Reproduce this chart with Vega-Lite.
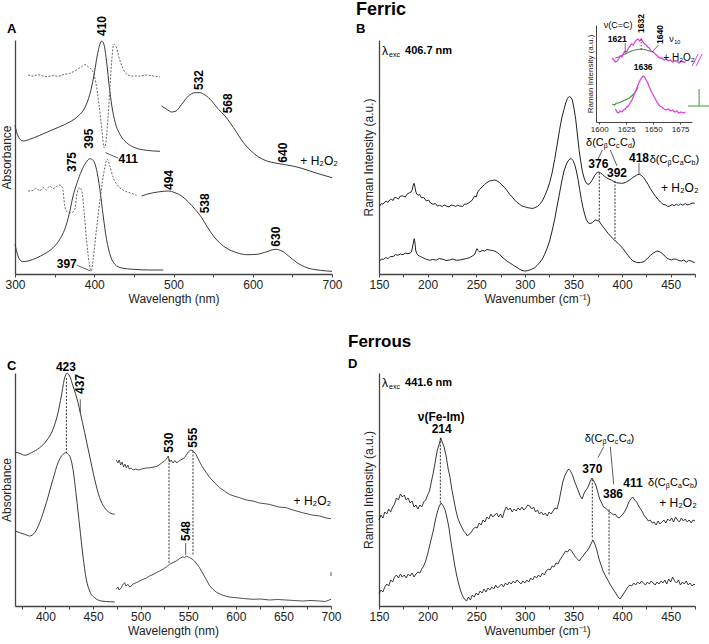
{
"$schema": "https://vega.github.io/schema/vega-lite/v6.json",
"background": "white",
"padding": {"left": 0, "top": 1, "right": 5, "bottom": 5},
"bounds": "flush",
"columns": 2,
"spacing": {"row": 99, "column": 47},
"config": {
  "view": {"stroke": null},
  "font": "Liberation Sans",
  "axis": {"grid": false, "domainColor": "#444", "domainWidth": 1.3, "tickColor": "#444", "tickSize": 3, "labelFontSize": 12, "labelColor": "#222", "titleFontSize": 12, "titleFontWeight": "normal", "titleColor": "#222", "labelPadding": 2, "titlePadding": 3, "labelFlush": false, "labelOverlap": false},
  "axisY": {"ticks": false, "labels": false},
  "title": {"fontSize": 13, "fontWeight": "bold", "color": "#000", "anchor": "start", "frame": "group", "subtitleFontSize": 13, "subtitleFontWeight": "bold", "subtitleColor": "#000", "subtitleFont": "Liberation Sans"}
},
"datasets": {
  "Asolid": [
    {"s":"u1","x":300,"y":148.7},{"s":"u1","x":303.8,"y":138},{"s":"u1","x":310.1,"y":133},{"s":"u1","x":318.5,"y":134.7},{"s":"u1","x":331.2,"y":138.7},{"s":"u1","x":343.8,"y":143},{"s":"u1","x":356.5,"y":147.3},{"s":"u1","x":369.1,"y":152},{"s":"u1","x":379.7,"y":158},{"s":"u1","x":388.1,"y":166.3},{"s":"u1","x":394.4,"y":179.7},{"s":"u1","x":399.5,"y":198},{"s":"u1","x":403.7,"y":218},{"s":"u1","x":407.1,"y":229.7},{"s":"u1","x":409.6,"y":233},{"s":"u1","x":412.2,"y":229.7},{"s":"u1","x":415.5,"y":213},{"s":"u1","x":418.9,"y":188},{"s":"u1","x":422.2,"y":168},{"s":"u1","x":426.5,"y":151.3},{"s":"u1","x":432.4,"y":139.7},{"s":"u1","x":440.8,"y":131.3},{"s":"u1","x":451.3,"y":126.3},{"s":"u1","x":466.1,"y":123.7},{"s":"u1","x":482.9,"y":122.7},
    {"s":"u2","x":485,"y":168},{"s":"u2","x":491.4,"y":164.7},{"s":"u2","x":497.7,"y":162},{"s":"u2","x":503.2,"y":163},{"s":"u2","x":510.3,"y":169.7},{"s":"u2","x":518.8,"y":178},{"s":"u2","x":527.2,"y":181.3},{"s":"u2","x":533.5,"y":181.3},{"s":"u2","x":539.8,"y":179},{"s":"u2","x":548.3,"y":173},{"s":"u2","x":556.7,"y":164.7},{"s":"u2","x":565.1,"y":158},{"s":"u2","x":571.4,"y":151.3},{"s":"u2","x":579.9,"y":141.3},{"s":"u2","x":588.3,"y":131.3},{"s":"u2","x":596.7,"y":124},{"s":"u2","x":607.3,"y":117},{"s":"u2","x":617.8,"y":113},{"s":"u2","x":630.5,"y":110.7},{"s":"u2","x":643.1,"y":109},{"s":"u2","x":655.8,"y":107},{"s":"u2","x":668.4,"y":104},{"s":"u2","x":681,"y":100.7},{"s":"u2","x":700,"y":96.3},
    {"s":"l1","x":300,"y":29.7},{"s":"l1","x":303.8,"y":18},{"s":"l1","x":309.3,"y":12.3},{"s":"l1","x":316.4,"y":13},{"s":"l1","x":327,"y":16},{"s":"l1","x":337.5,"y":20.3},{"s":"l1","x":348.1,"y":26.3},{"s":"l1","x":356.5,"y":34.7},{"s":"l1","x":362.8,"y":44.7},{"s":"l1","x":368.3,"y":59.7},{"s":"l1","x":373.3,"y":78},{"s":"l1","x":378.4,"y":91.3},{"s":"l1","x":383.9,"y":103},{"s":"l1","x":389.4,"y":111.3},{"s":"l1","x":394.4,"y":115.3},{"s":"l1","x":398.6,"y":113.7},{"s":"l1","x":402.8,"y":104.7},{"s":"l1","x":407.1,"y":84.7},{"s":"l1","x":411.3,"y":58},{"s":"l1","x":415.5,"y":34.7},{"s":"l1","x":420.5,"y":18},{"s":"l1","x":426,"y":9.7},{"s":"l1","x":434.5,"y":6},{"s":"l1","x":449.2,"y":4.7},{"s":"l1","x":470.3,"y":4},{"s":"l1","x":487.1,"y":4},
    {"s":"l2","x":459.7,"y":78},{"s":"l2","x":466.1,"y":79.7},{"s":"l2","x":474.5,"y":81.3},{"s":"l2","x":482.9,"y":82.3},{"s":"l2","x":493.5,"y":83},{"s":"l2","x":501.9,"y":81.3},{"s":"l2","x":510.3,"y":78},{"s":"l2","x":518.8,"y":72},{"s":"l2","x":527.2,"y":64.7},{"s":"l2","x":535.6,"y":56.3},{"s":"l2","x":541.9,"y":48},{"s":"l2","x":550.4,"y":38},{"s":"l2","x":558.8,"y":30.7},{"s":"l2","x":567.2,"y":25.7},{"s":"l2","x":579.9,"y":21.3},{"s":"l2","x":592.5,"y":19.3},{"s":"l2","x":605.2,"y":19.7},{"s":"l2","x":617.8,"y":22.3},{"s":"l2","x":628.4,"y":24.7},{"s":"l2","x":636.8,"y":23},{"s":"l2","x":645.3,"y":18},{"s":"l2","x":655.8,"y":11.3},{"s":"l2","x":668.4,"y":6.3},{"s":"l2","x":685.3,"y":3.7},{"s":"l2","x":700,"y":2.7}
  ],
  "Adash": [
    {"s":"d1","x":316.4,"y":199},{"s":"d1","x":322.8,"y":198},{"s":"d1","x":329.1,"y":199.3},{"s":"d1","x":335.4,"y":198},{"s":"d1","x":341.7,"y":197.3},{"s":"d1","x":348.1,"y":198.7},{"s":"d1","x":354.4,"y":197.7},{"s":"d1","x":360.7,"y":199.3},{"s":"d1","x":369.1,"y":200.7},{"s":"d1","x":377.6,"y":204},{"s":"d1","x":383.9,"y":207.3},{"s":"d1","x":388.1,"y":209.3},{"s":"d1","x":392.3,"y":207.3},{"s":"d1","x":397.8,"y":203},{"s":"d1","x":402,"y":191.3},{"s":"d1","x":406.2,"y":168},{"s":"d1","x":409.6,"y":144.7},{"s":"d1","x":412.5,"y":126.3},{"s":"d1","x":414.6,"y":131.3},{"s":"d1","x":417.2,"y":154.7},{"s":"d1","x":419.7,"y":184.7},{"s":"d1","x":422.2,"y":214.7},{"s":"d1","x":424.8,"y":229.7},{"s":"d1","x":427.3,"y":228},{"s":"d1","x":430.7,"y":218},{"s":"d1","x":434.9,"y":208},{"s":"d1","x":439.9,"y":200.7},{"s":"d1","x":447.1,"y":198},{"s":"d1","x":457.6,"y":198},{"s":"d1","x":466.1,"y":199},{"s":"d1","x":474.5,"y":198},{"s":"d1","x":482.9,"y":197},
    {"s":"d2","x":316.4,"y":83},{"s":"d2","x":322.8,"y":83.7},{"s":"d2","x":327,"y":85.7},{"s":"d2","x":331.2,"y":83},{"s":"d2","x":335.4,"y":86.3},{"s":"d2","x":339.6,"y":84},{"s":"d2","x":343.8,"y":88},{"s":"d2","x":348.1,"y":85.3},{"s":"d2","x":352.3,"y":87.3},{"s":"d2","x":356.5,"y":89},{"s":"d2","x":359.9,"y":86.3},{"s":"d2","x":362.8,"y":68},{"s":"d2","x":365.8,"y":62},{"s":"d2","x":371.2,"y":61.3},{"s":"d2","x":375.4,"y":64.7},{"s":"d2","x":378.4,"y":81.3},{"s":"d2","x":381.8,"y":86.3},{"s":"d2","x":384.7,"y":81.3},{"s":"d2","x":387.3,"y":61.3},{"s":"d2","x":390.2,"y":34.7},{"s":"d2","x":393.6,"y":11.3},{"s":"d2","x":396.1,"y":3},{"s":"d2","x":398.6,"y":14.7},{"s":"d2","x":402.8,"y":44.7},{"s":"d2","x":407.9,"y":78},{"s":"d2","x":412.1,"y":101.3},{"s":"d2","x":416.3,"y":114.7},{"s":"d2","x":419.7,"y":108},{"s":"d2","x":423.9,"y":96.3},{"s":"d2","x":430.2,"y":88},{"s":"d2","x":438.7,"y":83},{"s":"d2","x":447.1,"y":80.7},{"s":"d2","x":453.4,"y":78.7}
  ],
  "Arule": [{"x":378.4,"y":8.7,"x2":395.3,"y2":3},{"x":414.2,"y":121.3,"x2":430.2,"y2":116}],
  "Arot": [{"x":409.2,"y":238,"t":"410"},{"x":532.7,"y":184,"t":"532"},{"x":569.3,"y":160.7,"t":"568"},{"x":638,"y":111.3,"t":"640"},{"x":372.1,"y":102,"t":"375"},{"x":393.6,"y":125.3,"t":"395"},{"x":494.3,"y":84,"t":"494"},{"x":539.8,"y":60.7,"t":"538"},{"x":629.6,"y":27.3,"t":"630"}],
  "Ahor": [{"x":442.9,"y":114.7,"t":"411"},{"x":365.3,"y":9.7,"t":"397"}],
  "Aplus": [{"x":660,"y":113,"t":"+ H₂O₂"}],
  "Bline": [
    {"s":"u","x":150.7,"y":68},{"s":"u","x":152.5,"y":70.5},{"s":"u","x":154.1,"y":69.7},{"s":"u","x":156,"y":72},{"s":"u","x":157.5,"y":73},{"s":"u","x":159,"y":71.5},{"s":"u","x":161,"y":74},{"s":"u","x":162.7,"y":74.7},{"s":"u","x":164.5,"y":73.5},{"s":"u","x":166,"y":76.5},{"s":"u","x":167.8,"y":76.3},{"s":"u","x":170,"y":75},{"s":"u","x":172,"y":78},{"s":"u","x":174.7,"y":78},{"s":"u","x":177,"y":77},{"s":"u","x":179,"y":80},{"s":"u","x":181.5,"y":81.3},{"s":"u","x":183,"y":82},{"s":"u","x":184.3,"y":84.7},{"s":"u","x":185.2,"y":89},{"s":"u","x":186,"y":90.7},{"s":"u","x":186.8,"y":88},{"s":"u","x":187.7,"y":83},{"s":"u","x":188.8,"y":80},{"s":"u","x":190.1,"y":78.7},{"s":"u","x":191.8,"y":79.5},{"s":"u","x":193.5,"y":76.3},{"s":"u","x":196,"y":76.5},{"s":"u","x":198.7,"y":73},{"s":"u","x":201,"y":74},{"s":"u","x":203,"y":71},{"s":"u","x":205.5,"y":69.7},{"s":"u","x":208,"y":70.5},{"s":"u","x":210,"y":68},{"s":"u","x":212.4,"y":68.7},{"s":"u","x":215,"y":67.5},{"s":"u","x":217,"y":69},{"s":"u","x":219.3,"y":68},{"s":"u","x":222,"y":67},{"s":"u","x":224,"y":69},{"s":"u","x":226.1,"y":68.7},{"s":"u","x":229,"y":67.5},{"s":"u","x":231,"y":69},{"s":"u","x":233,"y":68},{"s":"u","x":236,"y":67.5},{"s":"u","x":238,"y":70},{"s":"u","x":239.8,"y":69.7},{"s":"u","x":242,"y":71},{"s":"u","x":245,"y":73},{"s":"u","x":246.5,"y":75},{"s":"u","x":248.4,"y":78},{"s":"u","x":250,"y":77},{"s":"u","x":251.5,"y":82},{"s":"u","x":253.5,"y":84.7},{"s":"u","x":256,"y":87},{"s":"u","x":258.7,"y":89.7},{"s":"u","x":261,"y":91.5},{"s":"u","x":263.8,"y":93},{"s":"u","x":266,"y":93.5},{"s":"u","x":269,"y":94},{"s":"u","x":271.5,"y":93},{"s":"u","x":274.1,"y":91.3},{"s":"u","x":276.5,"y":89},{"s":"u","x":279.3,"y":86.3},{"s":"u","x":282,"y":83},{"s":"u","x":284.4,"y":79.7},{"s":"u","x":287,"y":77},{"s":"u","x":289.5,"y":74},{"s":"u","x":292,"y":71.5},{"s":"u","x":294.7,"y":69.7},{"s":"u","x":297,"y":68},{"s":"u","x":299.8,"y":67.3},{"s":"u","x":302,"y":66.5},{"s":"u","x":305,"y":66},{"s":"u","x":308,"y":65.5},{"s":"u","x":310.1,"y":66.3},{"s":"u","x":313,"y":67.5},{"s":"u","x":315.2,"y":69.7},{"s":"u","x":318,"y":73},{"s":"u","x":320.4,"y":78},{"s":"u","x":323,"y":84},{"s":"u","x":325.5,"y":91.3},{"s":"u","x":328,"y":101},{"s":"u","x":330.7,"y":114.7},{"s":"u","x":333,"y":128},{"s":"u","x":335.8,"y":144.7},{"s":"u","x":338,"y":156},{"s":"u","x":340.3,"y":164.7},{"s":"u","x":342,"y":171},{"s":"u","x":343.7,"y":175.3},{"s":"u","x":345,"y":177},{"s":"u","x":346.1,"y":177.3},{"s":"u","x":347.5,"y":176.5},{"s":"u","x":348.8,"y":174},{"s":"u","x":350.5,"y":166},{"s":"u","x":352.3,"y":154.7},{"s":"u","x":354,"y":140},{"s":"u","x":355.7,"y":124.7},{"s":"u","x":357.4,"y":113},{"s":"u","x":359.1,"y":103},{"s":"u","x":360.8,"y":96.5},{"s":"u","x":362.5,"y":92},{"s":"u","x":364.2,"y":90},{"s":"u","x":366,"y":89.7},{"s":"u","x":368,"y":92},{"s":"u","x":370.1,"y":95.3},{"s":"u","x":371.8,"y":98.5},{"s":"u","x":373.5,"y":100.7},{"s":"u","x":375,"y":101.8},{"s":"u","x":376.3,"y":102},{"s":"u","x":378,"y":101},{"s":"u","x":379.7,"y":99.7},{"s":"u","x":381.7,"y":98},{"s":"u","x":383.8,"y":96.3},{"s":"u","x":386.5,"y":95},{"s":"u","x":389,"y":94},{"s":"u","x":391.5,"y":92.5},{"s":"u","x":394.1,"y":91.3},{"s":"u","x":396.6,"y":91},{"s":"u","x":399.2,"y":90.7},{"s":"u","x":401.8,"y":91},{"s":"u","x":404.4,"y":92},{"s":"u","x":407,"y":93.5},{"s":"u","x":409.5,"y":95.3},{"s":"u","x":412,"y":97},{"s":"u","x":414.7,"y":98.7},{"s":"u","x":416.5,"y":99.5},{"s":"u","x":418.1,"y":99.7},{"s":"u","x":420,"y":98.5},{"s":"u","x":422.2,"y":96.3},{"s":"u","x":424.5,"y":93},{"s":"u","x":426.7,"y":89.7},{"s":"u","x":429,"y":85.5},{"s":"u","x":431.8,"y":81.3},{"s":"u","x":434.5,"y":77.5},{"s":"u","x":437,"y":74.7},{"s":"u","x":439.5,"y":72},{"s":"u","x":442.1,"y":69.7},{"s":"u","x":445,"y":69},{"s":"u","x":447,"y":67.5},{"s":"u","x":449,"y":68},{"s":"u","x":451.5,"y":69.5},{"s":"u","x":453.5,"y":68.3},{"s":"u","x":455.8,"y":69.7},{"s":"u","x":458,"y":68.5},{"s":"u","x":460,"y":70},{"s":"u","x":462.7,"y":68.7},{"s":"u","x":465,"y":70.5},{"s":"u","x":467,"y":69},{"s":"u","x":469.5,"y":69.7},{"s":"u","x":472,"y":71},{"s":"u","x":474.7,"y":70.7},
    {"s":"l","x":150.7,"y":13},{"s":"l","x":152.5,"y":15},{"s":"l","x":154.8,"y":14.7},{"s":"l","x":157,"y":16.5},{"s":"l","x":159.3,"y":15.3},{"s":"l","x":161.5,"y":17.5},{"s":"l","x":164.4,"y":17.3},{"s":"l","x":167,"y":19.5},{"s":"l","x":169.5,"y":18.7},{"s":"l","x":172,"y":20},{"s":"l","x":174.7,"y":19.3},{"s":"l","x":177,"y":21},{"s":"l","x":179.8,"y":20.3},{"s":"l","x":182,"y":21},{"s":"l","x":183.3,"y":22},{"s":"l","x":184.3,"y":26},{"s":"l","x":185,"y":29.7},{"s":"l","x":185.7,"y":33},{"s":"l","x":186.3,"y":35.3},{"s":"l","x":187,"y":31},{"s":"l","x":187.7,"y":24},{"s":"l","x":188.8,"y":20.5},{"s":"l","x":190.1,"y":18.7},{"s":"l","x":192.5,"y":17.5},{"s":"l","x":195.2,"y":16.3},{"s":"l","x":198,"y":15},{"s":"l","x":202.1,"y":13.7},{"s":"l","x":205,"y":14.5},{"s":"l","x":209,"y":14},{"s":"l","x":212,"y":15.5},{"s":"l","x":215.8,"y":14.7},{"s":"l","x":219,"y":13.5},{"s":"l","x":222.7,"y":14},{"s":"l","x":226,"y":15},{"s":"l","x":229.5,"y":13.7},{"s":"l","x":233,"y":14},{"s":"l","x":236.4,"y":14.7},{"s":"l","x":240,"y":15.5},{"s":"l","x":243.2,"y":16.3},{"s":"l","x":246,"y":18},{"s":"l","x":248.4,"y":19.7},{"s":"l","x":249.7,"y":23},{"s":"l","x":250.8,"y":25.3},{"s":"l","x":252,"y":23.5},{"s":"l","x":253.5,"y":22},{"s":"l","x":256,"y":23.5},{"s":"l","x":258.7,"y":23},{"s":"l","x":261,"y":24.5},{"s":"l","x":263.8,"y":24},{"s":"l","x":266.5,"y":23.5},{"s":"l","x":269,"y":23},{"s":"l","x":271.5,"y":21.5},{"s":"l","x":274.1,"y":19.7},{"s":"l","x":276.5,"y":17},{"s":"l","x":279.3,"y":14.7},{"s":"l","x":282,"y":12.5},{"s":"l","x":284.4,"y":11.3},{"s":"l","x":287,"y":9.5},{"s":"l","x":289.5,"y":8},{"s":"l","x":292,"y":6.5},{"s":"l","x":294.7,"y":4.7},{"s":"l","x":297,"y":3.5},{"s":"l","x":299.8,"y":3},{"s":"l","x":302.5,"y":3.3},{"s":"l","x":305,"y":4},{"s":"l","x":307.5,"y":5},{"s":"l","x":310.1,"y":6.3},{"s":"l","x":312.5,"y":8.5},{"s":"l","x":315.2,"y":11.3},{"s":"l","x":318,"y":15},{"s":"l","x":320.4,"y":19.7},{"s":"l","x":323,"y":26},{"s":"l","x":325.5,"y":33},{"s":"l","x":328,"y":43},{"s":"l","x":330.7,"y":54.7},{"s":"l","x":333,"y":67},{"s":"l","x":335.8,"y":81.3},{"s":"l","x":338,"y":93},{"s":"l","x":340.3,"y":103},{"s":"l","x":342.4,"y":109},{"s":"l","x":344.4,"y":113},{"s":"l","x":346,"y":114.8},{"s":"l","x":347.8,"y":115.3},{"s":"l","x":349.5,"y":113.5},{"s":"l","x":351.2,"y":109.7},{"s":"l","x":353,"y":103},{"s":"l","x":354.7,"y":94.7},{"s":"l","x":356.4,"y":84.5},{"s":"l","x":358.1,"y":74.7},{"s":"l","x":359.8,"y":66.5},{"s":"l","x":361.5,"y":59.7},{"s":"l","x":363.2,"y":54.5},{"s":"l","x":365,"y":51.3},{"s":"l","x":367,"y":50.5},{"s":"l","x":369.4,"y":51.3},{"s":"l","x":371,"y":53},{"s":"l","x":372.8,"y":54},{"s":"l","x":374.5,"y":53.5},{"s":"l","x":376.3,"y":53},{"s":"l","x":378.3,"y":50},{"s":"l","x":380.4,"y":47.3},{"s":"l","x":383,"y":44},{"s":"l","x":385.5,"y":40.7},{"s":"l","x":388,"y":38},{"s":"l","x":390.7,"y":35.3},{"s":"l","x":393,"y":33},{"s":"l","x":395.8,"y":30.7},{"s":"l","x":398.5,"y":28},{"s":"l","x":401,"y":25.3},{"s":"l","x":403.5,"y":22},{"s":"l","x":406.1,"y":18.7},{"s":"l","x":408.6,"y":15.5},{"s":"l","x":411.2,"y":13},{"s":"l","x":413.8,"y":12},{"s":"l","x":416.4,"y":11.3},{"s":"l","x":419,"y":11.5},{"s":"l","x":421.5,"y":12},{"s":"l","x":424,"y":13.5},{"s":"l","x":426.7,"y":16.3},{"s":"l","x":429,"y":18.5},{"s":"l","x":431.8,"y":20.7},{"s":"l","x":434,"y":22},{"s":"l","x":435.9,"y":23},{"s":"l","x":438,"y":22.5},{"s":"l","x":440.4,"y":21.3},{"s":"l","x":443,"y":19},{"s":"l","x":445.5,"y":16.3},{"s":"l","x":448,"y":15},{"s":"l","x":450.7,"y":14},{"s":"l","x":453,"y":15},{"s":"l","x":455.8,"y":14.7},{"s":"l","x":458.5,"y":13.5},{"s":"l","x":461,"y":13},{"s":"l","x":463.5,"y":14},{"s":"l","x":466.1,"y":12},{"s":"l","x":468.5,"y":13.5},{"s":"l","x":471.2,"y":13},{"s":"l","x":473,"y":12},{"s":"l","x":474.7,"y":11.3}
  ],
  "Bdash": [{"x":376.6,"y":101.3,"y2":53},{"x":392.7,"y":93,"y2":33}],
  "Brule": [{"x":379.7,"y":124,"x2":375.2,"y2":114.7},{"x":387.9,"y":124,"x2":394.8,"y2":108},{"x":417.4,"y":111,"x2":417.4,"y2":99.5}],
  "Bnum": [{"x":375.6,"y":109.7,"t":"376"},{"x":394.8,"y":101.3,"t":"392"},{"x":417.4,"y":116.3,"t":"418"}],
  "Bdelta": [{"x":362.9,"y":131.3,"s1":"β","s2":"c","s3":"d"},{"x":428.4,"y":114,"s1":"β","s2":"a","s3":"b"}],
  "Bplus": [{"x":459.3,"y":86.3,"t":"+ H₂O₂"}],
  "Blam": [{"x":153.1,"y":223,"n":"406.7 nm"}],
  "Iline": [
    {"s":"gu","x":1615,"y":64},{"s":"gu","x":1618,"y":65},{"s":"gu","x":1621,"y":66.5},{"s":"gu","x":1624,"y":68},{"s":"gu","x":1627,"y":69.5},{"s":"gu","x":1630,"y":71},{"s":"gu","x":1633,"y":72},{"s":"gu","x":1636,"y":72.5},{"s":"gu","x":1639,"y":73},{"s":"gu","x":1642,"y":72.5},{"s":"gu","x":1645,"y":71.5},{"s":"gu","x":1648,"y":70.5},{"s":"gu","x":1650,"y":70},
    {"s":"gl","x":1612,"y":18},{"s":"gl","x":1614,"y":17},{"s":"gl","x":1616,"y":19},{"s":"gl","x":1618,"y":19},{"s":"gl","x":1620,"y":20},{"s":"gl","x":1622,"y":21},{"s":"gl","x":1624,"y":22},{"s":"gl","x":1626,"y":23},{"s":"gl","x":1628,"y":24},{"s":"gl","x":1630,"y":26},{"s":"gl","x":1632,"y":28},{"s":"gl","x":1634,"y":31},{"s":"gl","x":1636,"y":35}
  ],
  "Mline": [
    {"s":"mu","x":1612,"y":64},{"s":"mu","x":1613.5,"y":62},{"s":"mu","x":1615,"y":60},{"s":"mu","x":1616.7,"y":61},{"s":"mu","x":1618,"y":63},{"s":"mu","x":1619.5,"y":66},{"s":"mu","x":1621,"y":65},{"s":"mu","x":1622.5,"y":69},{"s":"mu","x":1624,"y":71},{"s":"mu","x":1625.5,"y":70},{"s":"mu","x":1627,"y":74},{"s":"mu","x":1628.5,"y":76},{"s":"mu","x":1630,"y":78},{"s":"mu","x":1631.5,"y":77},{"s":"mu","x":1633,"y":80},{"s":"mu","x":1634.5,"y":82},{"s":"mu","x":1636,"y":83},{"s":"mu","x":1637.5,"y":81},{"s":"mu","x":1639,"y":83},{"s":"mu","x":1640.5,"y":80},{"s":"mu","x":1642,"y":78},{"s":"mu","x":1643.5,"y":77},{"s":"mu","x":1645,"y":75},{"s":"mu","x":1646.5,"y":74},{"s":"mu","x":1648,"y":71},{"s":"mu","x":1650,"y":70},{"s":"mu","x":1652,"y":68},{"s":"mu","x":1654,"y":66},{"s":"mu","x":1656,"y":64},{"s":"mu","x":1658,"y":64},{"s":"mu","x":1660,"y":62},{"s":"mu","x":1662,"y":63},{"s":"mu","x":1664,"y":61},{"s":"mu","x":1666,"y":62},{"s":"mu","x":1668,"y":60},{"s":"mu","x":1670,"y":61},{"s":"mu","x":1672,"y":61},{"s":"mu","x":1674,"y":59},{"s":"mu","x":1676,"y":61},{"s":"mu","x":1678,"y":60},{"s":"mu","x":1680,"y":60},
    {"s":"ml","x":1615,"y":13},{"s":"ml","x":1616.5,"y":10},{"s":"ml","x":1618,"y":9},{"s":"ml","x":1619.5,"y":11},{"s":"ml","x":1621,"y":10},{"s":"ml","x":1622.5,"y":12},{"s":"ml","x":1624,"y":13},{"s":"ml","x":1625.5,"y":15},{"s":"ml","x":1627,"y":16},{"s":"ml","x":1628.5,"y":19},{"s":"ml","x":1630,"y":21},{"s":"ml","x":1631.5,"y":25},{"s":"ml","x":1633,"y":29},{"s":"ml","x":1634.5,"y":33},{"s":"ml","x":1636,"y":37},{"s":"ml","x":1637.5,"y":41},{"s":"ml","x":1639,"y":44},{"s":"ml","x":1640.5,"y":46},{"s":"ml","x":1642,"y":45},{"s":"ml","x":1643.5,"y":42},{"s":"ml","x":1645,"y":39},{"s":"ml","x":1646.5,"y":35},{"s":"ml","x":1648,"y":31},{"s":"ml","x":1649.5,"y":28},{"s":"ml","x":1651,"y":25},{"s":"ml","x":1652.5,"y":22},{"s":"ml","x":1654,"y":19},{"s":"ml","x":1656,"y":16},{"s":"ml","x":1658,"y":15},{"s":"ml","x":1660,"y":13},{"s":"ml","x":1662,"y":12},{"s":"ml","x":1664,"y":13},{"s":"ml","x":1666,"y":11},{"s":"ml","x":1668,"y":12},{"s":"ml","x":1670,"y":10},{"s":"ml","x":1672,"y":11},{"s":"ml","x":1674,"y":9},{"s":"ml","x":1676,"y":10},{"s":"ml","x":1678,"y":9},{"s":"ml","x":1680,"y":10}
  ],
  "Irule": [{"x":1624.1,"y":79,"x2":1624.1,"y2":69},{"x":1649,"y":70,"x2":1655,"y2":77}],
  "Idash": [{"x":1638.9,"y":83,"y2":72}],
  "Imag": [{"x":1686.1,"y":56,"x2":1691.7,"y2":68},{"x":1689.8,"y":56,"x2":1695.4,"y2":68}],
  "Igreen": [{"x":1692.6,"y":33,"x2":1692.6,"y2":16},{"x":1682.4,"y":16,"x2":1701.9,"y2":16}],
  "Irot": [{"x":1638.9,"y":89,"t":"1632"},{"x":1656.5,"y":78,"t":"1640"}],
  "Ihor": [{"x":1616.7,"y":83,"t":"1621"},{"x":1640.7,"y":55,"t":"1636"}],
  "Inu": [{"x":1617.6,"y":97,"t":"ν(C=C)"}],
  "Inu10": [{"x":1664.8,"y":83}],
  "Iplus": [{"x":1674,"y":64,"t":"+ H₂O₂"}],
  "Csolid": [
    {"s":"u1","x":368,"y":154},{"s":"u1","x":372.9,"y":152.7},{"s":"u1","x":378.2,"y":150.7},{"s":"u1","x":385.2,"y":153.3},{"s":"u1","x":393.9,"y":158.3},{"s":"u1","x":400.9,"y":165},{"s":"u1","x":407.9,"y":176.7},{"s":"u1","x":413.2,"y":193.3},{"s":"u1","x":416.7,"y":210},{"s":"u1","x":420.2,"y":228.3},{"s":"u1","x":422.6,"y":232.7},{"s":"u1","x":425.4,"y":230},{"s":"u1","x":428.9,"y":220},{"s":"u1","x":434.2,"y":203.3},{"s":"u1","x":436.6,"y":193.3},{"s":"u1","x":441.2,"y":173.3},{"s":"u1","x":446.4,"y":150},{"s":"u1","x":451.7,"y":126.7},{"s":"u1","x":456.9,"y":108.3},{"s":"u1","x":462.2,"y":98.3},{"s":"u1","x":467.4,"y":93.3},{"s":"u1","x":472.7,"y":91.7},
    {"s":"l1","x":368,"y":75},{"s":"l1","x":372.9,"y":73.3},{"s":"l1","x":378.2,"y":71.7},{"s":"l1","x":383.4,"y":70},{"s":"l1","x":388.7,"y":73.3},{"s":"l1","x":393.9,"y":83.3},{"s":"l1","x":400.9,"y":103.3},{"s":"l1","x":407.9,"y":126.7},{"s":"l1","x":413.2,"y":143.3},{"s":"l1","x":418.4,"y":151.7},{"s":"l1","x":421.2,"y":153.3},{"s":"l1","x":425.4,"y":150},{"s":"l1","x":428.9,"y":136.7},{"s":"l1","x":432.4,"y":110},{"s":"l1","x":435.9,"y":80},{"s":"l1","x":439.4,"y":50},{"s":"l1","x":442.9,"y":26.7},{"s":"l1","x":446.4,"y":15},{"s":"l1","x":451.7,"y":8.3},{"s":"l1","x":458.7,"y":5},{"s":"l1","x":467.4,"y":4.3},{"s":"l1","x":472.7,"y":4}
  ],
  "Cnoisy": [
    {"s":"u2","x":474.4,"y":146},{"s":"u2","x":476,"y":143},{"s":"u2","x":477.5,"y":146},{"s":"u2","x":479,"y":141},{"s":"u2","x":480.5,"y":144},{"s":"u2","x":482,"y":139},{"s":"u2","x":483.5,"y":142},{"s":"u2","x":485,"y":138},{"s":"u2","x":486.5,"y":141},{"s":"u2","x":488,"y":137},{"s":"u2","x":490,"y":138},{"s":"u2","x":492,"y":136},{"s":"u2","x":495,"y":137},{"s":"u2","x":498,"y":136},{"s":"u2","x":502,"y":137.3},{"s":"u2","x":506,"y":138},{"s":"u2","x":510,"y":138.3},{"s":"u2","x":514,"y":139},{"s":"u2","x":518,"y":140},{"s":"u2","x":522,"y":143},{"s":"u2","x":525,"y":145},{"s":"u2","x":527,"y":146.7},{"s":"u2","x":529,"y":150},{"s":"u2","x":530.5,"y":144},{"s":"u2","x":532,"y":146},{"s":"u2","x":534,"y":143},{"s":"u2","x":536,"y":145.5},{"s":"u2","x":538,"y":143},{"s":"u2","x":540,"y":145},{"s":"u2","x":542,"y":146},{"s":"u2","x":544,"y":147},{"s":"u2","x":546,"y":148.3},{"s":"u2","x":548,"y":151},{"s":"u2","x":550,"y":154},{"s":"u2","x":552,"y":155.5},{"s":"u2","x":554,"y":156},{"s":"u2","x":556,"y":154},{"s":"u2","x":558,"y":151.7},{"s":"u2","x":560,"y":148},{"s":"u2","x":562,"y":144},{"s":"u2","x":565,"y":139},{"s":"u2","x":569,"y":133.3},{"s":"u2","x":573,"y":128},{"s":"u2","x":576,"y":125},{"s":"u2","x":580,"y":121},{"s":"u2","x":583,"y":118.3},{"s":"u2","x":588,"y":115},{"s":"u2","x":593,"y":111.7},{"s":"u2","x":598,"y":110},{"s":"u2","x":604,"y":108.3},{"s":"u2","x":611,"y":106},{"s":"u2","x":618,"y":105},{"s":"u2","x":625,"y":103},{"s":"u2","x":635,"y":101.7},{"s":"u2","x":645,"y":99},{"s":"u2","x":653,"y":98.3},{"s":"u2","x":660,"y":96},{"s":"u2","x":670,"y":93.3},{"s":"u2","x":680,"y":91},{"s":"u2","x":688,"y":90},{"s":"u2","x":695,"y":88},{"s":"u2","x":700,"y":87.3},
    {"s":"l2","x":474.4,"y":16.7},{"s":"l2","x":476,"y":19},{"s":"l2","x":477.5,"y":16},{"s":"l2","x":479.7,"y":18.3},{"s":"l2","x":481,"y":21},{"s":"l2","x":483.2,"y":23.3},{"s":"l2","x":484.5,"y":20},{"s":"l2","x":486.7,"y":21.7},{"s":"l2","x":488.5,"y":19},{"s":"l2","x":490.2,"y":20},{"s":"l2","x":492,"y":22},{"s":"l2","x":495.4,"y":23.3},{"s":"l2","x":499,"y":25},{"s":"l2","x":502.4,"y":26.7},{"s":"l2","x":506,"y":28},{"s":"l2","x":509.4,"y":30},{"s":"l2","x":513,"y":31.5},{"s":"l2","x":516.4,"y":33.3},{"s":"l2","x":520,"y":35},{"s":"l2","x":523.4,"y":36.7},{"s":"l2","x":527,"y":39},{"s":"l2","x":530.4,"y":41.7},{"s":"l2","x":534,"y":43.5},{"s":"l2","x":537.5,"y":45},{"s":"l2","x":541,"y":47.5},{"s":"l2","x":544.5,"y":49.3},{"s":"l2","x":546,"y":48},{"s":"l2","x":548,"y":50},{"s":"l2","x":550,"y":49},{"s":"l2","x":551.5,"y":48.3},{"s":"l2","x":554,"y":47},{"s":"l2","x":556.6,"y":45},{"s":"l2","x":559,"y":42},{"s":"l2","x":561.9,"y":38.3},{"s":"l2","x":565,"y":33},{"s":"l2","x":568.9,"y":26.7},{"s":"l2","x":572,"y":21},{"s":"l2","x":575.9,"y":16.7},{"s":"l2","x":580,"y":13.5},{"s":"l2","x":586.4,"y":10.7},{"s":"l2","x":593,"y":9},{"s":"l2","x":600.4,"y":8.3},{"s":"l2","x":608,"y":7.5},{"s":"l2","x":617.9,"y":6.7},{"s":"l2","x":626,"y":7},{"s":"l2","x":635.4,"y":6},{"s":"l2","x":644,"y":6.5},{"s":"l2","x":652.9,"y":6},{"s":"l2","x":661,"y":5.5},{"s":"l2","x":670.4,"y":5},{"s":"l2","x":679,"y":5.5},{"s":"l2","x":687.9,"y":5},{"s":"l2","x":694,"y":4.5},{"s":"l2","x":700,"y":6.7}
  ],
  "Cdot": [{"x":422,"y":228,"y2":153},{"x":529.8,"y":146.7,"y2":41.7},{"x":555,"y":155,"y2":50}],
  "Crule": [{"x":436.6,"y":206.7,"y2":193.3},{"x":547.3,"y":63,"y2":51},{"x":700,"y":34,"y2":30}],
  "Crot": [{"x":436.6,"y":212,"t":"437"},{"x":529.8,"y":153.3,"t":"530"},{"x":555,"y":158.3,"t":"555"},{"x":547.3,"y":65,"t":"548"}],
  "Chor": [{"x":421.5,"y":239.3,"t":"423"}],
  "Cplus": [{"x":680.5,"y":105,"t":"+ H₂O₂"}],
  "Dline": [
    {"s":"u","x":150,"y":86},{"s":"u","x":152,"y":91},{"s":"u","x":154,"y":88},{"s":"u","x":156,"y":94},{"s":"u","x":158,"y":92},{"s":"u","x":160,"y":97},{"s":"u","x":162,"y":94},{"s":"u","x":164,"y":99},{"s":"u","x":166,"y":102},{"s":"u","x":168,"y":108},{"s":"u","x":170,"y":106},{"s":"u","x":172,"y":112},{"s":"u","x":174,"y":109},{"s":"u","x":176,"y":111},{"s":"u","x":178,"y":106},{"s":"u","x":180,"y":108},{"s":"u","x":182,"y":103},{"s":"u","x":184,"y":105},{"s":"u","x":186,"y":99},{"s":"u","x":188,"y":101},{"s":"u","x":190,"y":97},{"s":"u","x":192,"y":101},{"s":"u","x":194,"y":99},{"s":"u","x":196,"y":104},{"s":"u","x":198,"y":106},{"s":"u","x":200,"y":111},{"s":"u","x":202,"y":115},{"s":"u","x":204,"y":125},{"s":"u","x":206,"y":134},{"s":"u","x":208,"y":145},{"s":"u","x":210,"y":156},{"s":"u","x":212,"y":162},{"s":"u","x":213.5,"y":168},{"s":"u","x":215,"y":164},{"s":"u","x":217,"y":159},{"s":"u","x":219,"y":150},{"s":"u","x":221,"y":138},{"s":"u","x":223,"y":129},{"s":"u","x":225,"y":116},{"s":"u","x":227,"y":106},{"s":"u","x":229,"y":96},{"s":"u","x":231,"y":88},{"s":"u","x":233,"y":83},{"s":"u","x":235,"y":79},{"s":"u","x":237,"y":75},{"s":"u","x":239,"y":73},{"s":"u","x":241,"y":70},{"s":"u","x":243,"y":72},{"s":"u","x":245,"y":74},{"s":"u","x":247,"y":77},{"s":"u","x":249,"y":79},{"s":"u","x":251,"y":78},{"s":"u","x":253,"y":83},{"s":"u","x":255,"y":81},{"s":"u","x":257,"y":86},{"s":"u","x":259,"y":84},{"s":"u","x":261,"y":89},{"s":"u","x":263,"y":87},{"s":"u","x":265,"y":92},{"s":"u","x":267,"y":89},{"s":"u","x":269,"y":91},{"s":"u","x":271,"y":93},{"s":"u","x":273,"y":89},{"s":"u","x":275,"y":92},{"s":"u","x":277,"y":88},{"s":"u","x":279,"y":95},{"s":"u","x":281,"y":99},{"s":"u","x":283,"y":96},{"s":"u","x":285,"y":98},{"s":"u","x":287,"y":94},{"s":"u","x":289,"y":97},{"s":"u","x":291,"y":95},{"s":"u","x":293,"y":98},{"s":"u","x":295,"y":96},{"s":"u","x":297,"y":99},{"s":"u","x":299,"y":96},{"s":"u","x":301,"y":98},{"s":"u","x":303,"y":101},{"s":"u","x":305,"y":100},{"s":"u","x":307,"y":97},{"s":"u","x":309,"y":99},{"s":"u","x":311,"y":94},{"s":"u","x":313,"y":96},{"s":"u","x":315,"y":92},{"s":"u","x":317,"y":94},{"s":"u","x":319,"y":91},{"s":"u","x":321,"y":93},{"s":"u","x":323,"y":90},{"s":"u","x":325,"y":94},{"s":"u","x":327,"y":92},{"s":"u","x":329,"y":95},{"s":"u","x":331,"y":98},{"s":"u","x":333,"y":97},{"s":"u","x":335,"y":104},{"s":"u","x":337,"y":114},{"s":"u","x":339,"y":124},{"s":"u","x":341,"y":130},{"s":"u","x":343,"y":134},{"s":"u","x":345,"y":137},{"s":"u","x":347,"y":135},{"s":"u","x":349,"y":131},{"s":"u","x":351,"y":125},{"s":"u","x":353,"y":120},{"s":"u","x":355,"y":115},{"s":"u","x":357,"y":110},{"s":"u","x":359,"y":107},{"s":"u","x":361,"y":113},{"s":"u","x":363,"y":116},{"s":"u","x":365,"y":119},{"s":"u","x":367,"y":124},{"s":"u","x":369,"y":128},{"s":"u","x":371,"y":125},{"s":"u","x":373,"y":121},{"s":"u","x":375,"y":114},{"s":"u","x":377,"y":107},{"s":"u","x":379,"y":103},{"s":"u","x":381,"y":99},{"s":"u","x":383,"y":98},{"s":"u","x":385,"y":96},{"s":"u","x":387,"y":94},{"s":"u","x":389,"y":93},{"s":"u","x":391,"y":91},{"s":"u","x":393,"y":92},{"s":"u","x":395,"y":89},{"s":"u","x":397,"y":88},{"s":"u","x":399,"y":90},{"s":"u","x":401,"y":92},{"s":"u","x":403,"y":95},{"s":"u","x":405,"y":99},{"s":"u","x":407,"y":104},{"s":"u","x":409,"y":107},{"s":"u","x":411,"y":109},{"s":"u","x":413,"y":106},{"s":"u","x":415,"y":104},{"s":"u","x":417,"y":100},{"s":"u","x":419,"y":97},{"s":"u","x":421,"y":94},{"s":"u","x":423,"y":90},{"s":"u","x":425,"y":88},{"s":"u","x":427,"y":85},{"s":"u","x":429,"y":86},{"s":"u","x":431,"y":83},{"s":"u","x":433,"y":84},{"s":"u","x":435,"y":81},{"s":"u","x":437,"y":85},{"s":"u","x":439,"y":82},{"s":"u","x":441,"y":84},{"s":"u","x":443,"y":86},{"s":"u","x":445,"y":83},{"s":"u","x":447,"y":87},{"s":"u","x":449,"y":85},{"s":"u","x":451,"y":88},{"s":"u","x":453,"y":84},{"s":"u","x":455,"y":89},{"s":"u","x":457,"y":86},{"s":"u","x":459,"y":84},{"s":"u","x":461,"y":88},{"s":"u","x":463,"y":85},{"s":"u","x":465,"y":87},{"s":"u","x":467,"y":84},{"s":"u","x":469,"y":86},{"s":"u","x":471,"y":83},{"s":"u","x":473,"y":86},{"s":"u","x":475,"y":85},
    {"s":"l","x":150,"y":12},{"s":"l","x":152,"y":16},{"s":"l","x":154,"y":14},{"s":"l","x":156,"y":19},{"s":"l","x":158,"y":22},{"s":"l","x":160,"y":20},{"s":"l","x":162,"y":26},{"s":"l","x":164,"y":24},{"s":"l","x":166,"y":29},{"s":"l","x":168,"y":31},{"s":"l","x":170,"y":28},{"s":"l","x":172,"y":32},{"s":"l","x":174,"y":29},{"s":"l","x":176,"y":31},{"s":"l","x":178,"y":28},{"s":"l","x":180,"y":32},{"s":"l","x":182,"y":30},{"s":"l","x":184,"y":33},{"s":"l","x":186,"y":29},{"s":"l","x":188,"y":32},{"s":"l","x":190,"y":34},{"s":"l","x":192,"y":33},{"s":"l","x":194,"y":37},{"s":"l","x":196,"y":40},{"s":"l","x":198,"y":45},{"s":"l","x":200,"y":52},{"s":"l","x":202,"y":60},{"s":"l","x":204,"y":68},{"s":"l","x":206,"y":76},{"s":"l","x":208,"y":86},{"s":"l","x":210,"y":94},{"s":"l","x":212,"y":100},{"s":"l","x":214,"y":103},{"s":"l","x":216,"y":100},{"s":"l","x":218,"y":96},{"s":"l","x":220,"y":88},{"s":"l","x":222,"y":78},{"s":"l","x":224,"y":64},{"s":"l","x":226,"y":52},{"s":"l","x":228,"y":40},{"s":"l","x":230,"y":30},{"s":"l","x":232,"y":22},{"s":"l","x":234,"y":15},{"s":"l","x":236,"y":10},{"s":"l","x":238,"y":7},{"s":"l","x":240,"y":5},{"s":"l","x":242,"y":9},{"s":"l","x":244,"y":6},{"s":"l","x":246,"y":11},{"s":"l","x":248,"y":9},{"s":"l","x":250,"y":13},{"s":"l","x":252,"y":11},{"s":"l","x":254,"y":15},{"s":"l","x":256,"y":13},{"s":"l","x":258,"y":17},{"s":"l","x":260,"y":14},{"s":"l","x":262,"y":18},{"s":"l","x":264,"y":16},{"s":"l","x":266,"y":19},{"s":"l","x":268,"y":17},{"s":"l","x":270,"y":21},{"s":"l","x":272,"y":18},{"s":"l","x":274,"y":20},{"s":"l","x":276,"y":22},{"s":"l","x":278,"y":19},{"s":"l","x":280,"y":23},{"s":"l","x":282,"y":21},{"s":"l","x":284,"y":24},{"s":"l","x":286,"y":22},{"s":"l","x":288,"y":25},{"s":"l","x":290,"y":23},{"s":"l","x":292,"y":26},{"s":"l","x":294,"y":24},{"s":"l","x":296,"y":22},{"s":"l","x":298,"y":25},{"s":"l","x":300,"y":23},{"s":"l","x":302,"y":26},{"s":"l","x":304,"y":24},{"s":"l","x":306,"y":28},{"s":"l","x":308,"y":26},{"s":"l","x":310,"y":30},{"s":"l","x":312,"y":28},{"s":"l","x":314,"y":31},{"s":"l","x":316,"y":29},{"s":"l","x":318,"y":33},{"s":"l","x":320,"y":31},{"s":"l","x":322,"y":35},{"s":"l","x":324,"y":37},{"s":"l","x":326,"y":36},{"s":"l","x":328,"y":40},{"s":"l","x":330,"y":39},{"s":"l","x":332,"y":43},{"s":"l","x":334,"y":42},{"s":"l","x":336,"y":46},{"s":"l","x":338,"y":49},{"s":"l","x":340,"y":52},{"s":"l","x":342,"y":55},{"s":"l","x":344,"y":54},{"s":"l","x":346,"y":57},{"s":"l","x":348,"y":55},{"s":"l","x":350,"y":52},{"s":"l","x":352,"y":49},{"s":"l","x":354,"y":47},{"s":"l","x":356,"y":45},{"s":"l","x":358,"y":48},{"s":"l","x":360,"y":50},{"s":"l","x":362,"y":53},{"s":"l","x":364,"y":55},{"s":"l","x":366,"y":58},{"s":"l","x":368,"y":62},{"s":"l","x":370,"y":66},{"s":"l","x":372,"y":62},{"s":"l","x":374,"y":56},{"s":"l","x":376,"y":48},{"s":"l","x":378,"y":42},{"s":"l","x":380,"y":36},{"s":"l","x":382,"y":32},{"s":"l","x":384,"y":28},{"s":"l","x":386,"y":25},{"s":"l","x":388,"y":21},{"s":"l","x":390,"y":18},{"s":"l","x":392,"y":15},{"s":"l","x":394,"y":12},{"s":"l","x":396,"y":9},{"s":"l","x":398,"y":7},{"s":"l","x":400,"y":10},{"s":"l","x":402,"y":13},{"s":"l","x":404,"y":16},{"s":"l","x":406,"y":19},{"s":"l","x":408,"y":21},{"s":"l","x":410,"y":20},{"s":"l","x":412,"y":23},{"s":"l","x":414,"y":21},{"s":"l","x":416,"y":24},{"s":"l","x":418,"y":22},{"s":"l","x":420,"y":25},{"s":"l","x":422,"y":23},{"s":"l","x":424,"y":21},{"s":"l","x":426,"y":24},{"s":"l","x":428,"y":22},{"s":"l","x":430,"y":25},{"s":"l","x":432,"y":23},{"s":"l","x":434,"y":21},{"s":"l","x":436,"y":24},{"s":"l","x":438,"y":22},{"s":"l","x":440,"y":25},{"s":"l","x":442,"y":23},{"s":"l","x":444,"y":26},{"s":"l","x":446,"y":22},{"s":"l","x":448,"y":27},{"s":"l","x":450,"y":24},{"s":"l","x":452,"y":29},{"s":"l","x":454,"y":25},{"s":"l","x":456,"y":23},{"s":"l","x":458,"y":26},{"s":"l","x":460,"y":21},{"s":"l","x":462,"y":24},{"s":"l","x":464,"y":22},{"s":"l","x":466,"y":25},{"s":"l","x":468,"y":21},{"s":"l","x":470,"y":23},{"s":"l","x":472,"y":20},{"s":"l","x":474,"y":22},{"s":"l","x":475,"y":21}
  ],
  "Ddot": [{"x":213.1,"y":168.3,"y2":101.7},{"x":369.4,"y":126.7,"y2":66.7},{"x":386.6,"y":96.7,"y2":31.7}],
  "Drule": [{"x":381.1,"y":159.3,"x2":375.2,"y2":148.3},{"x":387.9,"y":159.3,"x2":391.4,"y2":121.7}],
  "Dnum": [{"x":214.5,"y":176.7,"t":"214"},{"x":369.4,"y":137.3,"t":"370"},{"x":390.7,"y":111.7,"t":"386"},{"x":411.2,"y":123.3,"t":"411"},{"x":213.8,"y":189.3,"t":"ν(Fe-Im)"}],
  "Ddelta": [{"x":361.6,"y":167.3,"s1":"β","s2":"c","s3":"d"},{"x":426.7,"y":123.3,"s1":"β","s2":"a","s3":"b"}],
  "Dplus": [{"x":457.5,"y":103.3,"t":"+ H₂O₂"}],
  "Dlam": [{"x":153.1,"y":223.3,"n":"441.6 nm"}]
},
"concat": [
  {
    "width": 317, "height": 234,
    "title": {"text": "A", "dx": -8, "offset": -20},
    "encoding": {
      "x": {"field": "x", "type": "quantitative", "scale": {"domain": [300, 700], "nice": false}, "axis": {"title": "Wavelength (nm)", "values": [300,350,400,450,500,550,600,650,700], "labelExpr": "datum.value % 100 === 0 ? datum.label : ''"}},
      "y": {"field": "y", "type": "quantitative", "scale": {"domain": [0, 234], "nice": false}, "axis": {"title": "Absorbance", "titlePadding": 2}}
    },
    "layer": [
      {"data": {"name": "Asolid"}, "mark": {"type": "line", "color": "#3a3a3a", "strokeWidth": 1, "interpolate": "monotone"}, "encoding": {"detail": {"field": "s"}}},
      {"data": {"name": "Adash"}, "mark": {"type": "line", "color": "#666", "strokeWidth": 1, "strokeDash": [2, 1.5], "interpolate": "monotone"}, "encoding": {"detail": {"field": "s"}}},
      {"data": {"name": "Arule"}, "mark": {"type": "rule", "color": "#333", "strokeWidth": 0.8}, "encoding": {"x2": {"field": "x2"}, "y2": {"field": "y2"}}},
      {"data": {"name": "Arot"}, "mark": {"type": "text", "angle": 270, "align": "left", "baseline": "middle", "fontWeight": "bold", "fontSize": 12}, "encoding": {"text": {"field": "t"}}},
      {"data": {"name": "Ahor"}, "mark": {"type": "text", "align": "center", "baseline": "middle", "fontWeight": "bold", "fontSize": 12}, "encoding": {"text": {"field": "t"}}},
      {"data": {"name": "Aplus"}, "mark": {"type": "text", "align": "left", "baseline": "middle", "fontSize": 12}, "encoding": {"text": {"field": "t"}}}
    ]
  },
  {
    "width": 316, "height": 234,
    "title": {"text": "Ferric", "subtitle": "\u00a0\u00a0\u00a0\u00a0B", "dx": -23, "offset": -22, "fontSize": 18, "subtitlePadding": 4},
    "layer": [
      {
        "encoding": {
          "x": {"field": "x", "type": "quantitative", "scale": {"domain": [150, 475], "nice": false}, "axis": {"title": "Wavenumber (cm⁻¹)", "values": [150,175,200,225,250,275,300,325,350,375,400,425,450,475], "labelExpr": "datum.value % 50 === 0 ? datum.label : ''"}},
          "y": {"field": "y", "type": "quantitative", "scale": {"domain": [0, 234], "nice": false}, "axis": {"title": "Raman Intensity (a.u.)", "titlePadding": 4}}
        },
        "layer": [
          {"data": {"name": "Bline"}, "mark": {"type": "line", "color": "#222", "strokeWidth": 1}, "encoding": {"detail": {"field": "s"}}},
          {"data": {"name": "Bdash"}, "mark": {"type": "rule", "color": "#333", "strokeWidth": 1, "strokeDash": [2, 1.5]}, "encoding": {"y2": {"field": "y2"}}},
          {"data": {"name": "Brule"}, "mark": {"type": "rule", "color": "#333", "strokeWidth": 0.8}, "encoding": {"x2": {"field": "x2"}, "y2": {"field": "y2"}}},
          {"data": {"name": "Bnum"}, "mark": {"type": "text", "align": "center", "baseline": "middle", "fontWeight": "bold", "fontSize": 12}, "encoding": {"text": {"field": "t"}}},
          {"data": {"name": "Bplus"}, "mark": {"type": "text", "align": "center", "baseline": "middle", "fontSize": 12}, "encoding": {"text": {"field": "t"}}},
          {"data": {"name": "Bdelta"}, "mark": {"type": "text", "text": "δ(C", "align": "left", "baseline": "middle", "fontSize": 11}, "encoding": {}},
          {"data": {"name": "Bdelta"}, "mark": {"type": "text", "align": "left", "baseline": "middle", "fontSize": 7, "dx": 17.8, "dy": 3}, "encoding": {"text": {"field": "s1"}}},
          {"data": {"name": "Bdelta"}, "mark": {"type": "text", "text": "C", "align": "left", "baseline": "middle", "fontSize": 11, "dx": 22}, "encoding": {}},
          {"data": {"name": "Bdelta"}, "mark": {"type": "text", "align": "left", "baseline": "middle", "fontSize": 7, "dx": 30, "dy": 3}, "encoding": {"text": {"field": "s2"}}},
          {"data": {"name": "Bdelta"}, "mark": {"type": "text", "text": "C", "align": "left", "baseline": "middle", "fontSize": 11, "dx": 33.9}, "encoding": {}},
          {"data": {"name": "Bdelta"}, "mark": {"type": "text", "align": "left", "baseline": "middle", "fontSize": 7, "dx": 41.9, "dy": 3}, "encoding": {"text": {"field": "s3"}}},
          {"data": {"name": "Bdelta"}, "mark": {"type": "text", "text": ")", "align": "left", "baseline": "middle", "fontSize": 11, "dx": 45.8}, "encoding": {}},
          {"data": {"name": "Blam"}, "mark": {"type": "text", "text": "λ", "align": "left", "baseline": "middle", "fontSize": 12}, "encoding": {}},
          {"data": {"name": "Blam"}, "mark": {"type": "text", "text": "exc", "align": "left", "baseline": "middle", "fontSize": 7, "dx": 7, "dy": 4}, "encoding": {}},
          {"data": {"name": "Blam"}, "mark": {"type": "text", "align": "left", "baseline": "middle", "fontSize": 11, "fontWeight": "bold", "dx": 23}, "encoding": {"text": {"field": "n"}}}
        ]
      },
      {
        "encoding": {
          "x": {"field": "x", "type": "quantitative", "scale": {"domain": [1597, 1686], "range": [217, 313], "nice": false}, "axis": {"orient": "bottom", "offset": -152, "title": null, "values": [1600, 1625, 1650, 1675], "format": "d", "labelFontSize": 8, "tickSize": 2, "labelPadding": 1, "domainWidth": 1}},
          "y": {"field": "y", "type": "quantitative", "scale": {"domain": [0, 97], "range": [82, -15], "nice": false}, "axis": {"orient": "left", "offset": -217, "title": "Raman Intensity (a.u.)", "titleFontSize": 8, "titlePadding": 2, "domainWidth": 1}}
        },
        "layer": [
          {"data": {"name": "Iline"}, "mark": {"type": "line", "color": "#3c9a32", "strokeWidth": 1.2}, "encoding": {"detail": {"field": "s"}}},
          {"data": {"name": "Mline"}, "mark": {"type": "line", "color": "#e040e0", "strokeWidth": 1.3}, "encoding": {"detail": {"field": "s"}}},
          {"data": {"name": "Irule"}, "mark": {"type": "rule", "color": "#333", "strokeWidth": 0.7}, "encoding": {"x2": {"field": "x2"}, "y2": {"field": "y2"}}},
          {"data": {"name": "Idash"}, "mark": {"type": "rule", "color": "#333", "strokeWidth": 0.8, "strokeDash": [1.5, 1.5]}, "encoding": {"y2": {"field": "y2"}}},
          {"data": {"name": "Imag"}, "mark": {"type": "rule", "color": "#e040e0", "strokeWidth": 1}, "encoding": {"x2": {"field": "x2"}, "y2": {"field": "y2"}}},
          {"data": {"name": "Igreen"}, "mark": {"type": "rule", "color": "#3c9a32", "strokeWidth": 1}, "encoding": {"x2": {"field": "x2"}, "y2": {"field": "y2"}}},
          {"data": {"name": "Irot"}, "mark": {"type": "text", "angle": 270, "align": "left", "baseline": "middle", "fontWeight": "bold", "fontSize": 8.5}, "encoding": {"text": {"field": "t"}}},
          {"data": {"name": "Ihor"}, "mark": {"type": "text", "align": "center", "baseline": "middle", "fontWeight": "bold", "fontSize": 8.5}, "encoding": {"text": {"field": "t"}}},
          {"data": {"name": "Inu"}, "mark": {"type": "text", "align": "center", "baseline": "middle", "fontSize": 9}, "encoding": {"text": {"field": "t"}}},
          {"data": {"name": "Inu10"}, "mark": {"type": "text", "text": "ν", "align": "left", "baseline": "middle", "fontSize": 9}, "encoding": {}},
          {"data": {"name": "Inu10"}, "mark": {"type": "text", "text": "10", "align": "left", "baseline": "middle", "fontSize": 5.5, "dx": 5, "dy": 3}, "encoding": {}},
          {"data": {"name": "Iplus"}, "mark": {"type": "text", "align": "center", "baseline": "middle", "fontSize": 10}, "encoding": {"text": {"field": "t"}}}
        ]
      }
    ],
    "resolve": {"scale": {"x": "independent", "y": "independent"}, "axis": {"x": "independent", "y": "independent"}}
  },
  {
    "width": 316, "height": 233,
    "title": {"text": "C", "dx": -8, "offset": -12},
    "encoding": {
      "x": {"field": "x", "type": "quantitative", "scale": {"domain": [368, 700], "nice": false}, "axis": {"title": "Wavelength (nm)", "values": [375,400,425,450,475,500,525,550,575,600,625,650,675,700], "labelExpr": "datum.value % 50 === 0 ? datum.label : ''"}},
      "y": {"field": "y", "type": "quantitative", "scale": {"domain": [0, 233], "nice": false}, "axis": {"title": "Absorbance", "titlePadding": 2}}
    },
    "layer": [
      {"data": {"name": "Csolid"}, "mark": {"type": "line", "color": "#3a3a3a", "strokeWidth": 1, "interpolate": "monotone"}, "encoding": {"detail": {"field": "s"}}},
      {"data": {"name": "Cnoisy"}, "mark": {"type": "line", "color": "#3a3a3a", "strokeWidth": 0.9}, "encoding": {"detail": {"field": "s"}}},
      {"data": {"name": "Cdot"}, "mark": {"type": "rule", "color": "#333", "strokeWidth": 1, "strokeDash": [2, 1.5]}, "encoding": {"y2": {"field": "y2"}}},
      {"data": {"name": "Crule"}, "mark": {"type": "rule", "color": "#333", "strokeWidth": 0.8}, "encoding": {"y2": {"field": "y2"}}},
      {"data": {"name": "Crot"}, "mark": {"type": "text", "angle": 270, "align": "left", "baseline": "middle", "fontWeight": "bold", "fontSize": 12}, "encoding": {"text": {"field": "t"}}},
      {"data": {"name": "Chor"}, "mark": {"type": "text", "align": "center", "baseline": "middle", "fontWeight": "bold", "fontSize": 12}, "encoding": {"text": {"field": "t"}}},
      {"data": {"name": "Cplus"}, "mark": {"type": "text", "align": "center", "baseline": "middle", "fontSize": 12}, "encoding": {"text": {"field": "t"}}}
    ]
  },
  {
    "width": 316, "height": 233,
    "title": {"text": "Ferrous", "subtitle": "\u00a0\u00a0\u00a0\u00a0\u00a0\u00a0D", "dx": -31, "offset": 1, "fontSize": 17, "subtitlePadding": 7},
    "encoding": {
      "x": {"field": "x", "type": "quantitative", "scale": {"domain": [150, 475], "nice": false}, "axis": {"title": "Wavenumber (cm⁻¹)", "values": [150,175,200,225,250,275,300,325,350,375,400,425,450,475], "labelExpr": "datum.value % 50 === 0 ? datum.label : ''"}},
      "y": {"field": "y", "type": "quantitative", "scale": {"domain": [0, 233], "nice": false}, "axis": {"title": "Raman Intensity (a.u.)", "titlePadding": 4}}
    },
    "layer": [
      {"data": {"name": "Dline"}, "mark": {"type": "line", "color": "#222", "strokeWidth": 0.9}, "encoding": {"detail": {"field": "s"}}},
      {"data": {"name": "Ddot"}, "mark": {"type": "rule", "color": "#333", "strokeWidth": 1, "strokeDash": [2, 1.5]}, "encoding": {"y2": {"field": "y2"}}},
      {"data": {"name": "Drule"}, "mark": {"type": "rule", "color": "#333", "strokeWidth": 0.8}, "encoding": {"x2": {"field": "x2"}, "y2": {"field": "y2"}}},
      {"data": {"name": "Dnum"}, "mark": {"type": "text", "align": "center", "baseline": "middle", "fontWeight": "bold", "fontSize": 12}, "encoding": {"text": {"field": "t"}}},
      {"data": {"name": "Dplus"}, "mark": {"type": "text", "align": "center", "baseline": "middle", "fontSize": 12}, "encoding": {"text": {"field": "t"}}},
      {"data": {"name": "Ddelta"}, "mark": {"type": "text", "text": "δ(C", "align": "left", "baseline": "middle", "fontSize": 11}, "encoding": {}},
      {"data": {"name": "Ddelta"}, "mark": {"type": "text", "align": "left", "baseline": "middle", "fontSize": 7, "dx": 17.8, "dy": 3}, "encoding": {"text": {"field": "s1"}}},
      {"data": {"name": "Ddelta"}, "mark": {"type": "text", "text": "C", "align": "left", "baseline": "middle", "fontSize": 11, "dx": 22}, "encoding": {}},
      {"data": {"name": "Ddelta"}, "mark": {"type": "text", "align": "left", "baseline": "middle", "fontSize": 7, "dx": 30, "dy": 3}, "encoding": {"text": {"field": "s2"}}},
      {"data": {"name": "Ddelta"}, "mark": {"type": "text", "text": "C", "align": "left", "baseline": "middle", "fontSize": 11, "dx": 33.9}, "encoding": {}},
      {"data": {"name": "Ddelta"}, "mark": {"type": "text", "align": "left", "baseline": "middle", "fontSize": 7, "dx": 41.9, "dy": 3}, "encoding": {"text": {"field": "s3"}}},
      {"data": {"name": "Ddelta"}, "mark": {"type": "text", "text": ")", "align": "left", "baseline": "middle", "fontSize": 11, "dx": 45.8}, "encoding": {}},
      {"data": {"name": "Dlam"}, "mark": {"type": "text", "text": "λ", "align": "left", "baseline": "middle", "fontSize": 12}, "encoding": {}},
      {"data": {"name": "Dlam"}, "mark": {"type": "text", "text": "exc", "align": "left", "baseline": "middle", "fontSize": 7, "dx": 7, "dy": 4}, "encoding": {}},
      {"data": {"name": "Dlam"}, "mark": {"type": "text", "align": "left", "baseline": "middle", "fontSize": 11, "fontWeight": "bold", "dx": 23}, "encoding": {"text": {"field": "n"}}}
    ]
  }
]
}
